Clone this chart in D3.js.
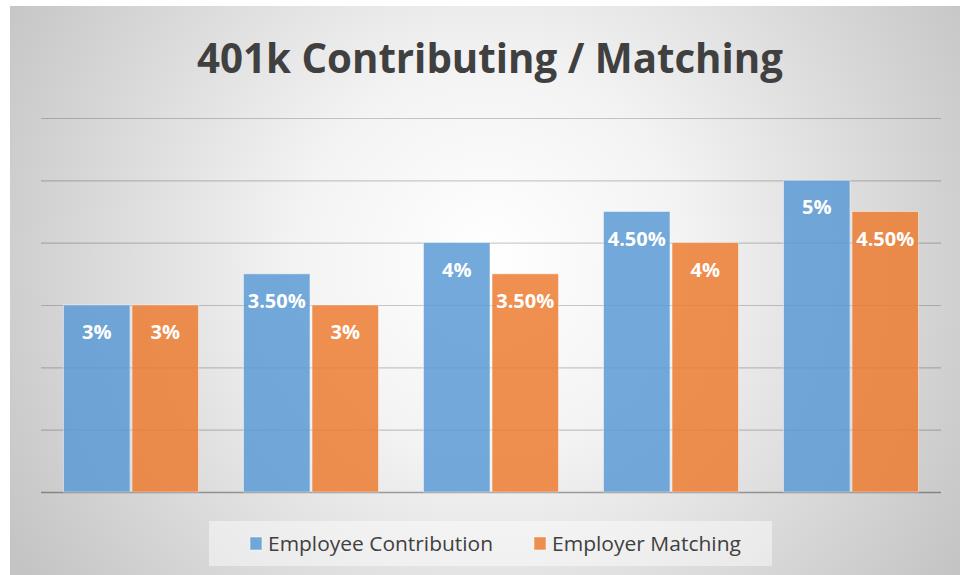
<!DOCTYPE html>
<html>
<head>
<meta charset="utf-8">
<script src="https://cdn.jsdelivr.net/npm/d3@7"></script>
<style>
    html, body { margin: 0; padding: 0; background: #fff; }
    svg { display: block; }
</style>
</head>
<body>
<div id="chart"></div>
<script>
// 401k contributing / matching grouped bar chart
const categories = ['A', 'B', 'C', 'D', 'E'];
const seriesNames = ['Employee Contribution', 'Employer Matching'];
const employeeValues = [3, 3.5, 4, 4.5, 5];
const employerValues = [3, 3, 3.5, 4, 4.5];
const valueLabels = [
    ['3%', '3.50%', '4%', '4.50%', '5%'],
    ['3%', '3%', '3.50%', '4%', '4.50%']
];
const gridTicks = [0, 1, 2, 3, 4, 5, 6];
const colors = ['#5B9BD5', '#ED7D31'];

const W = 960, H = 575;
const margin = { top: 118, right: 19, bottom: 83, left: 41 };
const width = W - margin.left - margin.right;
const height = H - margin.top - margin.bottom;

const svg = d3.select('#chart').append('svg')
    .attr('width', W)
    .attr('height', H);

// Background with soft radial gradient
const defs = svg.append('defs');
const grad = defs.append('radialGradient')
    .attr('id', 'bg')
    .attr('gradientUnits', 'userSpaceOnUse')
    .attr('cx', 490).attr('cy', 260).attr('r', 560);
grad.append('stop').attr('offset', '0%').attr('stop-color', '#ffffff');
grad.append('stop').attr('offset', '35%').attr('stop-color', '#f3f3f3');
grad.append('stop').attr('offset', '100%').attr('stop-color', '#c4c4c4');

svg.append('rect')
    .attr('x', 10).attr('y', 6)
    .attr('width', W - 10).attr('height', H - 6)
    .style('fill', 'url(#bg)');

// Title
svg.append('text')
    .attr('x', 490)
    .attr('y', 73)
    .attr('text-anchor', 'middle')
    .attr('textLength', 586)
    .attr('lengthAdjust', 'spacingAndGlyphs')
    .style('font-family', '"Open Sans", sans-serif')
    .style('font-weight', 'bold')
    .style('font-size', '42px')
    .style('fill', '#404040')
    .text('401k Contributing / Matching');

const g = svg.append('g')
    .attr('transform', `translate(${margin.left},${margin.top})`);

const x0 = d3.scaleBand()
    .domain(categories)
    .range([0, width])
    .paddingInner(0.25)
    .paddingOuter(0.125);

const x1 = d3.scaleBand()
    .domain(seriesNames)
    .range([0, x0.bandwidth()])
    .paddingInner(0.03);

const y = d3.scaleLinear()
    .domain([0, 6])
    .range([height, 0]);

// Gridlines
const grid = g.append('g')
    .call(d3.axisLeft(y)
        .tickValues(gridTicks)
        .tickSize(-width)
        .tickFormat(''));
grid.select('.domain').remove();
grid.selectAll('.tick line')
    .style('stroke', 'rgba(0,0,0,0.2)')
    .style('stroke-width', 1.2);
grid.selectAll('.tick')
    .filter(d => d === 0)
    .select('line')
    .style('stroke', 'rgba(0,0,0,0.35)')
    .style('stroke-width', 1.5);

// Bars
const data = categories.map((c, i) => ({
    cat: c,
    values: [
        { series: seriesNames[0], value: employeeValues[i], label: valueLabels[0][i], color: colors[0] },
        { series: seriesNames[1], value: employerValues[i], label: valueLabels[1][i], color: colors[1] }
    ]
}));

const groups = g.selectAll('.group')
    .data(data)
    .enter().append('g')
    .attr('class', 'group')
    .attr('transform', d => `translate(${x0(d.cat)},0)`);

groups.selectAll('rect')
    .data(d => d.values)
    .enter().append('rect')
    .attr('x', d => x1(d.series))
    .attr('y', d => y(d.value))
    .attr('width', x1.bandwidth())
    .attr('height', d => y(0) - y(d.value))
    .style('fill', d => d.color)
    .style('fill-opacity', 0.85)
    .style('stroke', 'rgba(255,255,255,0.45)')
    .style('stroke-width', 1);

groups.selectAll('.val')
    .data(d => d.values)
    .enter().append('text')
    .attr('class', 'val')
    .attr('x', d => x1(d.series) + x1.bandwidth() / 2)
    .attr('y', d => y(d.value) + 34)
    .attr('text-anchor', 'middle')
    .style('font-family', '"Open Sans", sans-serif')
    .style('font-weight', 'bold')
    .style('font-size', '20px')
    .style('fill', '#ffffff')
    .text(d => d.label);

// Legend
const legend = svg.append('g');
legend.append('rect')
    .attr('x', 209).attr('y', 521)
    .attr('width', 563).attr('height', 45)
    .style('fill', 'rgba(255,255,255,0.45)');

const legendItems = [
    { name: seriesNames[0], color: colors[0], sx: 250, tx: 268, len: 225 },
    { name: seriesNames[1], color: colors[1], sx: 534, tx: 552, len: 189 }
];
legendItems.forEach(item => {
    legend.append('rect')
        .attr('x', item.sx).attr('y', 537)
        .attr('width', 12).attr('height', 13)
        .style('fill', item.color)
        .style('fill-opacity', 0.85)
        .style('stroke', 'rgba(255,255,255,0.5)');
    legend.append('text')
        .attr('x', item.tx)
        .attr('y', 551)
        .attr('textLength', item.len)
        .attr('lengthAdjust', 'spacingAndGlyphs')
        .style('font-family', '"Open Sans", sans-serif')
        .style('font-size', '20px')
        .style('fill', '#404040')
        .text(item.name);
});
</script>
</body>
</html>
